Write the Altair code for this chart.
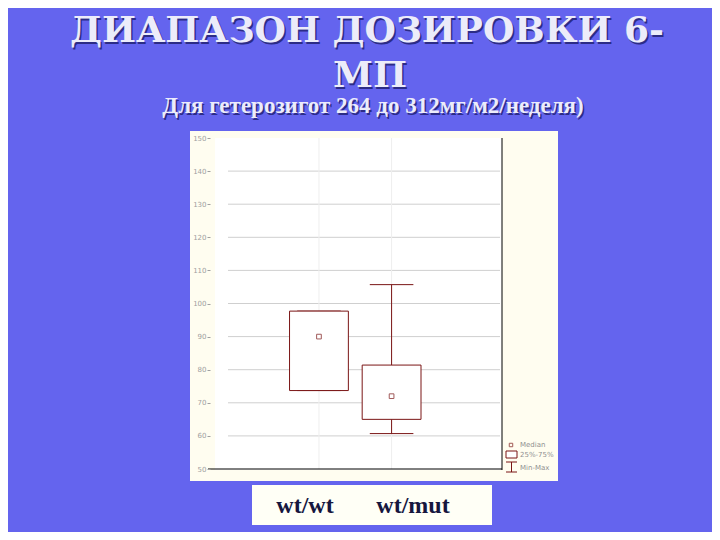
import altair as alt
import pandas as pd

# ---------------- data ----------------
title_lines = ["ДИАПАЗОН ДОЗИРОВКИ 6-", "МП"]
subtitle = "Для гетерозигот 264 до 312мг/м2/неделя)"
categories = ["wt/wt", "wt/mut"]
mins = [73.7, 60.7]
q1s = [73.7, 65.0]
medians = [90.0, 72.0]
q3s = [97.7, 81.4]
maxs = [97.7, 105.7]
y_ticks = [50, 60, 70, 80, 90, 100, 110, 120, 130, 140, 150]
grid_values = [60, 70, 80, 90, 100, 110, 120, 130, 140]
legend_labels = ["Median", "25%-75%", "Min-Max"]

# ---------------- style ----------------
BG = "#6464EE"
CREAM = "#FFFDF0"
BOX = "#7a1515"
LABEL = "#a0a0a0"
SERIF = "Liberation Serif"

df = pd.DataFrame({
    "cat": categories,
    "idx": [i + 1 for i in range(len(categories))],
    "min": mins, "q1": q1s, "med": medians, "q3": q3s, "max": maxs,
})
grid_df = pd.DataFrame({"v": grid_values})
one = pd.DataFrame({"a": [0]})

X = alt.Scale(domain=[-0.5, 3.52])
Y = alt.Scale(domain=[50, 150])
yax = alt.Axis(values=y_ticks, title=None, domain=False, grid=False,
               labelFontSize=7, labelColor=LABEL, labelFont="DejaVu Sans",
               tickColor=LABEL, tickSize=3, labelPadding=1, zindex=1)


def deco():
    return alt.Chart(one)


layers = []

# panel backgrounds
layers.append(deco().mark_rect(color=CREAM).encode(
    x=alt.value(-20), x2=alt.value(348), y=alt.value(-7), y2=alt.value(343)))
layers.append(deco().mark_rect(color="white").encode(
    x=alt.value(5), x2=alt.value(292), y=alt.value(0), y2=alt.value(332)))

# grid lines
layers.append(alt.Chart(grid_df).mark_rule(color="#cfcfcf", strokeWidth=1).encode(
    y=alt.Y("v:Q", scale=Y, axis=yax), x=alt.value(18), x2=alt.value(290)))
# faint vertical lines at category centres
layers.append(alt.Chart(df).mark_rule(color="#eeeeee").encode(
    x=alt.X("idx:Q", scale=X, axis=None), y=alt.value(0), y2=alt.value(331)))

# frame lines
layers.append(deco().mark_rule(color="black", strokeWidth=1).encode(
    y=alt.Y(datum=50, scale=Y, axis=yax), x=alt.value(-2), x2=alt.value(292)))
layers.append(deco().mark_rule(color="black", strokeWidth=1).encode(
    x=alt.value(292), y=alt.value(0), y2=alt.value(332)))

base = alt.Chart(df).transform_calculate(
    lo="datum.idx - 0.405", hi="datum.idx + 0.405",
    clo="datum.idx - 0.3", chi="datum.idx + 0.3")

# whiskers
layers.append(base.mark_rule(color=BOX, strokeWidth=1).encode(
    x=alt.X("idx:Q", scale=X, axis=None),
    y=alt.Y("min:Q", scale=Y, axis=yax), y2="q1:Q"))
layers.append(base.mark_rule(color=BOX, strokeWidth=1).encode(
    x=alt.X("idx:Q", scale=X, axis=None),
    y=alt.Y("q3:Q", scale=Y, axis=yax), y2="max:Q"))
layers.append(base.mark_rule(color=BOX, strokeWidth=1).encode(
    x=alt.X("clo:Q", scale=X, axis=None), x2="chi:Q",
    y=alt.Y("min:Q", scale=Y, axis=yax)))
layers.append(base.mark_rule(color=BOX, strokeWidth=1).encode(
    x=alt.X("clo:Q", scale=X, axis=None), x2="chi:Q",
    y=alt.Y("max:Q", scale=Y, axis=yax)))

# boxes
layers.append(base.mark_rect(fill="white", stroke=BOX, strokeWidth=1).encode(
    x=alt.X("lo:Q", scale=X, axis=None), x2="hi:Q",
    y=alt.Y("q1:Q", scale=Y, axis=yax), y2="q3:Q"))

# medians
layers.append(base.mark_point(shape="square", filled=False, size=22,
                              color=BOX, strokeWidth=1).encode(
    x=alt.X("idx:Q", scale=X, axis=None),
    y=alt.Y("med:Q", scale=Y, axis=yax)))

# legend
leg_y = [307, 317, 330]
for lab, yy in zip(legend_labels, leg_y):
    layers.append(deco().mark_text(align="left", baseline="middle", fontSize=7,
                                   font="DejaVu Sans", color="#909090").encode(
        x=alt.value(310), y=alt.value(yy), text=alt.value(lab)))
layers.append(deco().mark_point(shape="square", filled=False, size=12,
                                color=BOX, strokeWidth=1).encode(
    x=alt.value(301), y=alt.value(307)))
layers.append(deco().mark_rect(fill="white", stroke=BOX, strokeWidth=1).encode(
    x=alt.value(296), x2=alt.value(307), y=alt.value(313), y2=alt.value(320)))
for yy in [324, 334]:
    layers.append(deco().mark_rule(color=BOX, strokeWidth=1).encode(
        x=alt.value(296), x2=alt.value(307), y=alt.value(yy)))
layers.append(deco().mark_rule(color=BOX, strokeWidth=1).encode(
    x=alt.value(301.5), y=alt.value(324), y2=alt.value(334)))

# category label box
layers.append(deco().mark_rect(color="#FFFFF6").encode(
    x=alt.value(42), x2=alt.value(282), y=alt.value(347), y2=alt.value(387)))
for lab, xx in zip(categories, [95, 203]):
    layers.append(deco().mark_text(align="center", baseline="alphabetic",
                                   fontSize=24, font=SERIF, fontWeight="bold",
                                   color="#16163e").encode(
        x=alt.value(xx), y=alt.value(375), text=alt.value(lab)))

# titles (shadow + text)
title_specs = [(title_lines[0], 157, -96, 36, "bold", "DejaVu Serif"),
               (title_lines[1], 160, -51, 36, "bold", "DejaVu Serif"),
               (subtitle, 163, -25, 23, "bold", SERIF)]
for txt, xx, yy, fs, fw, fnt in title_specs:
    layers.append(deco().mark_text(align="center", baseline="alphabetic",
                                   fontSize=fs, font=fnt, fontWeight=fw,
                                   color="#2c2c86").encode(
        x=alt.value(xx + 1.5), y=alt.value(yy + 1.5), text=alt.value(txt)))
    layers.append(deco().mark_text(align="center", baseline="alphabetic",
                                   fontSize=fs, font=fnt, fontWeight=fw,
                                   color="#ECECFA").encode(
        x=alt.value(xx), y=alt.value(yy), text=alt.value(txt)))

chart = alt.layer(*layers).properties(
    width=292, height=331,
    autosize=alt.AutoSizeParams(type="none"),
    padding={"left": 202, "top": 130, "right": 210, "bottom": 63},
).configure(background=BG).configure_view(stroke=None)

chart.save("out.html", embed_options={"renderer": "svg", "actions": False})
